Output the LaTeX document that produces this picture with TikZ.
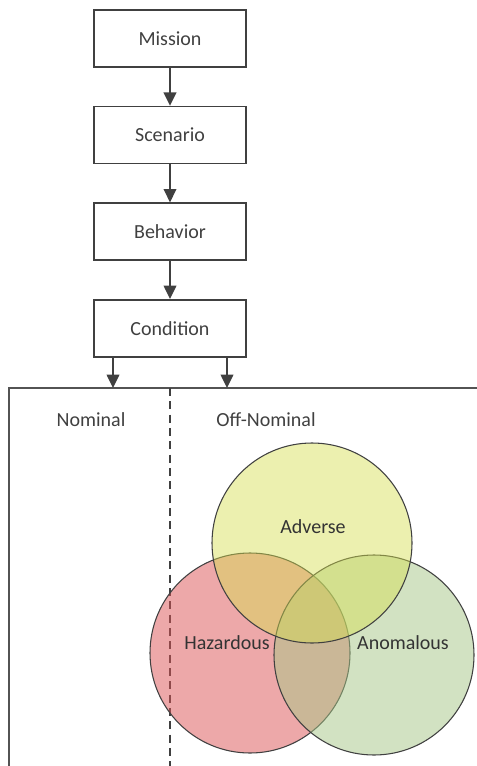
\documentclass[tikz,border=0pt]{standalone}
\usepackage{fontspec}
\setmainfont{Carlito}
\usetikzlibrary{arrows.meta,positioning}
\definecolor{linegray}{HTML}{404040}
\definecolor{hazred}{RGB}{220,82,84}
\definecolor{advyellow}{RGB}{212,222,78}
\definecolor{anogreen}{RGB}{166,198,134}

\tikzset{
    stepbox/.style={draw=linegray, line width=1.2pt, minimum width=114pt,
        minimum height=42.75pt, inner sep=0pt, text=linegray,
        font=\fontsize{15}{18}\selectfont},
    flow/.style={draw=linegray, line width=1.1pt,
        -{Triangle[width=9.5pt,length=10pt]}},
    setcircle/.style={circle, draw=linegray, line width=0.8pt,
        minimum size=150pt, inner sep=0pt, fill opacity=0.5},
    setlabel/.style={text=black!80, font=\fontsize{15}{18}\selectfont}
}

\begin{document}
\begin{tikzpicture}[x=0.75pt, y=0.75pt]

    \useasboundingbox (0,0) rectangle (477,-766);
    \clip (0,0) rectangle (477,-766);

    %boxes
    \node[stepbox] (mission) at (170,-38.5) {Mission};
    \node[stepbox, below=28.5pt of mission] (scenario) {Scenario};
    \node[stepbox, below=28.5pt of scenario] (behavior) {Behavior};
    \node[stepbox, below=28.5pt of behavior] (condition) {Condition};

    \draw [flow] (mission) -- (scenario);
    \draw [flow] (scenario) -- (behavior);
    \draw [flow] (behavior) -- (condition);

    %frame
    \coordinate (nomtop) at (113,-388);
    \coordinate (offtop) at (227,-388);
    \draw [draw=linegray!90, line width=1pt] (9,-770) -- (9,-388) -- (480,-388);
    \draw [dashed, dash pattern=on 6pt off 4pt, line width=0.8pt, draw=linegray]
        (170,-388) -- (170,-770);

    \draw [flow] (condition.south -| nomtop) -- (nomtop);
    \draw [flow] (condition.south -| offtop) -- (offtop);

    %nodes
    \node[setlabel, text=linegray] (nominal) at (91,-420) {Nominal};
    \node[setlabel, text=linegray] (offnominal) at (266,-420) {Off-Nominal};

    %circles
    \node[setcircle, fill=hazred] (hazardous) at (250,-653) {};
    \node[setcircle, fill=anogreen] (anomalous) at (374,-655) {};
    \node[setcircle, fill=advyellow, fill opacity=0.45] (adverse) at (312,-543) {};

    \node[setlabel] at (227,-643) {Hazardous};
    \node[setlabel] at (403,-643) {Anomalous};
    \node[setlabel] at (313,-527) {Adverse};

\end{tikzpicture}
\end{document}
